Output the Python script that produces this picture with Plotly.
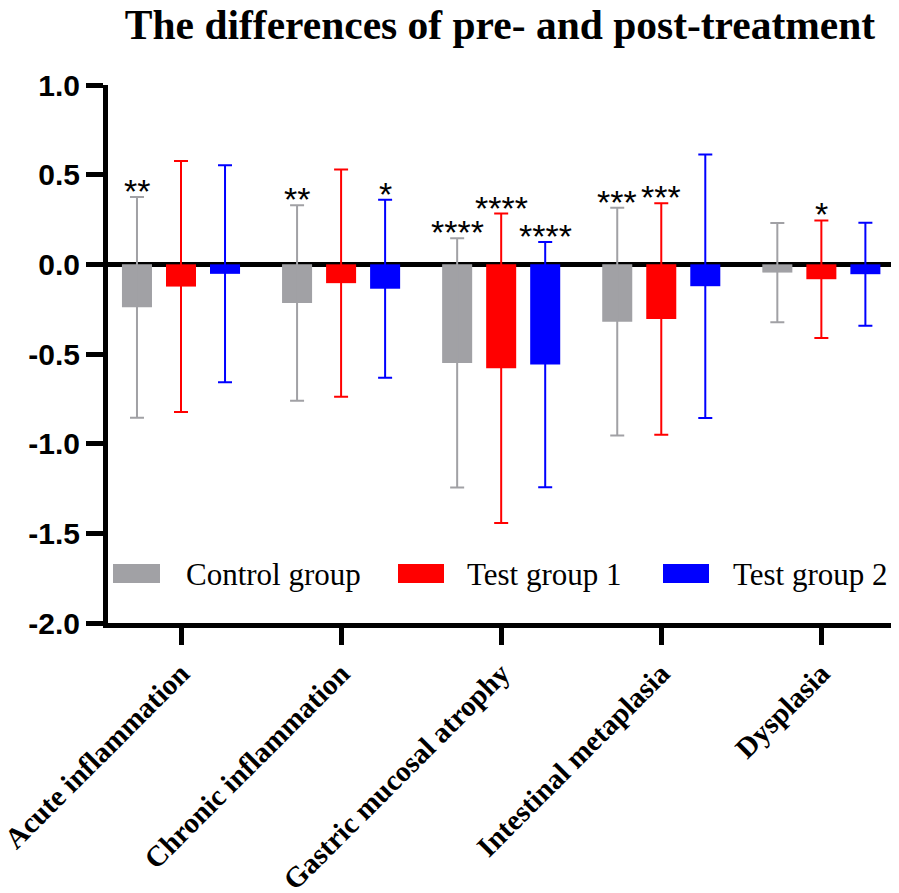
import plotly.graph_objects as go

# ---- data ----
categories = ["Acute inflammation", "Chronic inflammation", "Gastric mucosal atrophy",
              "Intestinal metaplasia", "Dysplasia"]
series_names = ["Control group", "Test group 1", "Test group 2"]
control_mean = [-0.24, -0.215, -0.55, -0.32, -0.046]
control_sd = [0.615, 0.545, 0.695, 0.635, 0.277]
test1_mean = [-0.124, -0.105, -0.58, -0.305, -0.083]
test1_sd = [0.70, 0.634, 0.863, 0.645, 0.328]
test2_mean = [-0.053, -0.136, -0.559, -0.122, -0.055]
test2_sd = [0.605, 0.496, 0.684, 0.735, 0.287]
control_sig = ["**", "**", "****", "***", ""]
test1_sig = ["", "", "****", "***", "*"]
test2_sig = ["", "*", "****", "", ""]
y_ticks = [-2.0, -1.5, -1.0, -0.5, 0.0, 0.5, 1.0]
y_tick_text = ["-2.0", "-1.5", "-1.0", "-0.5", "0.0", "0.5", "1.0"]

colors = ["#a1a1a5", "#ff0000", "#0000ff"]
means = [control_mean, test1_mean, test2_mean]
sds = [control_sd, test1_sd, test2_sd]
sigs = [control_sig, test1_sig, test2_sig]

x_pos = list(range(len(categories)))

OFF = 8  # page body margin
W, H = 899 - OFF, 893 - OFF
L, T = 108 - OFF, 85 - OFF
R = W - (895 - OFF)
B = H - (623 - OFF)
pw, ph = W - L - R, H - T - B

fig = go.Figure()
for name, m, s, c in zip(series_names, means, sds, colors):
    fig.add_trace(go.Bar(
        x=x_pos, y=m, name=name, marker=dict(color=c, line=dict(width=0)),
        error_y=dict(type="data", array=s, visible=True, color=c, thickness=2, width=7),
        showlegend=False,
    ))

# significance stars placed above each error bar top
n = len(series_names)
slot = (1 - 0.175) / n
for i, (m, s, sg) in enumerate(zip(means, sds, sigs)):
    off = (i - (n - 1) / 2) * slot
    for j in range(len(categories)):
        if sg[j]:
            fig.add_annotation(x=x_pos[j] + off, y=m[j] + s[j], text=sg[j], showarrow=False,
                               xref="x", yref="y", yanchor="middle", yshift=6,
                               font=dict(family="Liberation Sans, Arial", size=34, color="black"))

# custom legend (large swatches); positions in screen pixels
def px2x(px):
    return (px - OFF - L) / pw

def py2y(py):
    return (H - B - (py - OFF)) / ph

leg_sw = [(113, 160), (398, 444), (663, 709)]
leg_tx = [184, 465, 731]
for (x0, x1), tx, c, name in zip(leg_sw, leg_tx, colors, series_names):
    fig.add_shape(type="rect", xref="paper", yref="paper",
                  x0=px2x(x0), x1=px2x(x1), y0=py2y(583), y1=py2y(564),
                  fillcolor=c, line=dict(width=0))
    fig.add_annotation(xref="paper", yref="paper", x=px2x(tx), y=py2y(574),
                       xanchor="left", yanchor="middle", text=name, showarrow=False,
                       font=dict(family="Liberation Serif, Times New Roman", size=31, color="black"))

fig.update_layout(
    width=W, height=H,
    margin=dict(l=L, r=R, t=T, b=B, autoexpand=False),
    paper_bgcolor="white", plot_bgcolor="white",
    barmode="group", bargap=0.175, bargroupgap=0.318,
    title=dict(text="The differences of pre- and post-treatment",
               x=(500 - OFF) / W, xanchor="center", xref="container",
               y=1 - 16 / H, yanchor="middle", yref="container",
               font=dict(family="Liberation Serif, Times New Roman", size=41.5, color="black", weight="bold")),
)
fig.update_xaxes(
    range=[-0.456, 4.46], tickvals=x_pos, ticktext=categories, tickangle=-45,
    showline=True, linewidth=5, linecolor="black", ticks="outside", ticklen=17, tickwidth=5,
    tickcolor="black", showgrid=False, zeroline=False, automargin=False,
    ticklabeloverflow="allow",
    tickfont=dict(family="Liberation Serif, Times New Roman", size=29, color="black", weight="bold"),
)
fig.update_yaxes(
    range=[-2, 1], tickvals=y_ticks, ticktext=y_tick_text,
    showline=True, linewidth=5, linecolor="black", ticks="outside", ticklen=17, tickwidth=5,
    tickcolor="black", showgrid=False, zeroline=True, zerolinewidth=5, zerolinecolor="black",
    ticklabelstandoff=0, automargin=False, ticklabeloverflow="allow",
    tickfont=dict(family="Liberation Sans, Arial", size=30, color="black", weight="bold"),
)

fig.write_html("out.html")
